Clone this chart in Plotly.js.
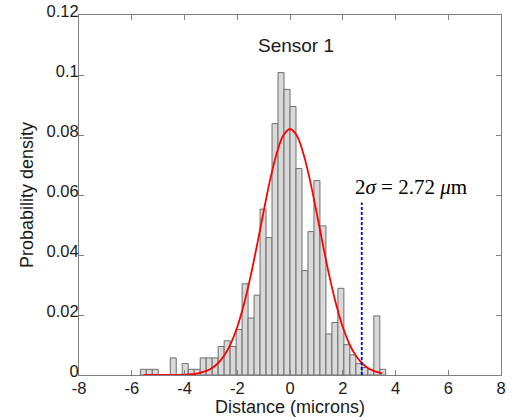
<!DOCTYPE html>
<html>
<head>
<meta charset="utf-8">
<script src="https://cdn.plot.ly/plotly-3.0.1.min.js"></script>
<style>html,body{margin:0;padding:0;background:#fff;}#chart{width:514px;height:417px;}</style>
</head>
<body>
<div id="chart"></div>
<script>
// Histogram bin centres (microns) and bin heights
const binCenters = [-5.5615,-5.3345,-5.1075,-4.8805,-4.6535,-4.4265,-4.1995,-3.9725,-3.7455,-3.5185,
  -3.2915,-3.0645,-2.8375,-2.6105,-2.3835,-2.1565,-1.9295,-1.7025,-1.4755,-1.2485,
  -1.0215,-0.7945,-0.5675,-0.3405,-0.1135,0.1135,0.3405,0.5675,0.7945,1.0215,
  1.2485,1.4755,1.7025,1.9295,2.1565,2.3835,2.6105,2.8375,3.0645,3.2915,3.5185];
const binHeights = [0.0019,0.0019,0.0019,0,0,0.0057,0,0.0038,0.0019,0.0019,
  0.0057,0.0057,0.0057,0.0095,0.0114,0.0095,0.0152,0.0304,0.019,0.0266,
  0.0553,0.0458,0.0838,0.1008,0.0952,0.0895,0.0688,0.0348,0.0478,0.0648,
  0.0497,0.0137,0.0175,0.0289,0.0101,0.0067,0.0038,0.0025,0.0019,0.0197,0.0019];
const binWidth = 0.227;

// Fitted curve, points
const fitX = [-5.55,-5.25,-5,-4.75,-4.5,-4.25,-4,-3.75,-3.5,-3.25,-3,-2.75,-2.5,-2.25,-2,-1.75,-1.5,-1.25,-1,-0.75,-0.5,-0.25,0,
  0.25,0.5,0.75,1,1.25,1.5,1.75,2,2.25,2.5,2.75,3,3.25,3.5];
const fitY = [0,0.000001,0.000003,0.000008,0.00002,0.00005,0.00012,0.00026,0.00055,0.0011,0.00208,0.00375,0.0064,0.0104,0.016,0.0235,0.0327,0.0433,0.0545,0.0652,0.074,0.0799,0.082,
  0.0799,0.074,0.0652,0.0545,0.0433,0.0327,0.0235,0.016,0.0104,0.0064,0.00375,0.00208,0.0011,0.00055];

// 2-sigma marker
const sigmaX = [2.72, 2.72];
const sigmaY = [0, 0.0575];

const xTicks = [-8,-6,-4,-2,0,2,4,6,8];
const xTickText = ['-8','-6','-4','-2','0','2','4','6','8'];
const yTicks = [0,0.02,0.04,0.06,0.08,0.1,0.12];
const yTickText = ['0','0.02','0.04','0.06','0.08','0.1','0.12'];

const sans = 'Liberation Sans, Arial, Helvetica, sans-serif';
const axisGray = '#7f7f7f';

const traces = [
  {type:'bar', x:binCenters, y:binHeights, width:binWidth,
   marker:{color:'#d9d9d9', line:{color:'#6e6e6e', width:1}}, hoverinfo:'x+y', showlegend:false},
  {type:'scatter', mode:'lines', x:fitX, y:fitY, line:{color:'#ff0000', width:1.8, shape:'spline'}, showlegend:false},
  {type:'scatter', mode:'lines', x:sigmaX, y:sigmaY, line:{color:'#0000ff', width:1.8, dash:'3px,2px'}, showlegend:false}
];

const layout = {
  width:514, height:417,
  margin:{l:79, r:13, t:15, b:42},
  paper_bgcolor:'#ffffff', plot_bgcolor:'#ffffff',
  bargap:0,
  showlegend:false,
  xaxis:{range:[-8,8], tickvals:xTicks, ticktext:xTickText, ticks:'inside', ticklen:5, tickcolor:axisGray,
    showline:true, linecolor:axisGray, linewidth:1, mirror:'ticks', showgrid:false, zeroline:false,
    tickfont:{family:sans, size:16.5, color:'#1a1a1a'}, ticklabelstandoff:-2,
    title:{text:'Distance (microns)', font:{family:sans, size:18, color:'#1a1a1a'}, standoff:2}},
  yaxis:{range:[0,0.12], tickvals:yTicks, ticktext:yTickText, ticks:'inside', ticklen:5, tickcolor:axisGray,
    showline:true, linecolor:axisGray, linewidth:1, mirror:'ticks', showgrid:false, zeroline:false,
    tickfont:{family:sans, size:16.5, color:'#1a1a1a'}, ticklabelstandoff:-4, ticklabelshift:-4,
    title:{text:'Probability density', font:{family:sans, size:18, color:'#1a1a1a'}, standoff:8}},
  annotations:[
    {text:'Sensor 1', x:0.22, y:0.1097, xref:'x', yref:'y', showarrow:false,
     font:{family:sans, size:19, color:'#1a1a1a'}},
    {text:'2<i>σ</i> = 2.72 <i>μ</i>m', x:2.4, y:0.0627, xref:'x', yref:'y', xanchor:'left', showarrow:false,
     font:{family:'Liberation Serif, DejaVu Serif, serif', size:21, color:'#000000'}}
  ]
};

Plotly.newPlot('chart', traces, layout, {displayModeBar:false, staticPlot:true});
</script>
</body>
</html>
